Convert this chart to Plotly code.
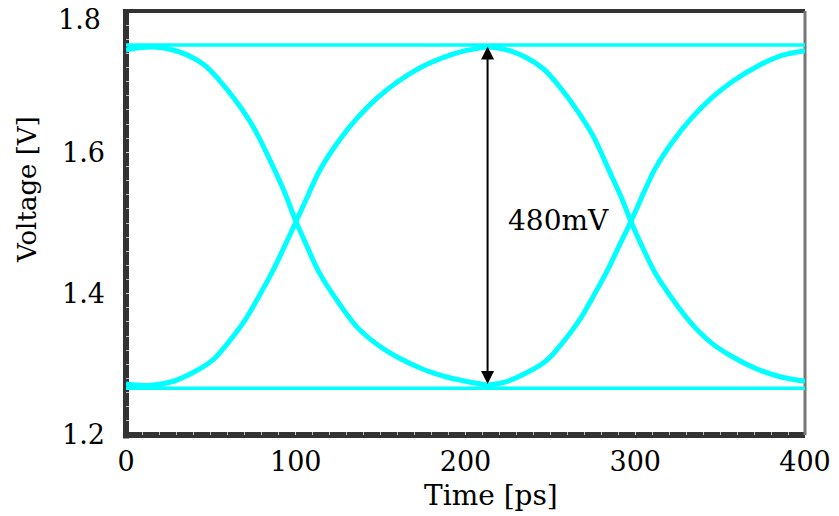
import plotly.graph_objects as go

# Eye diagram of a ~197 ps unit interval, traces in volts vs picoseconds
t_range = [0, 400]
v_range = [1.1999, 1.8001]
x_ticks = [0, 100, 200, 300, 400]
y_ticks = [1.2, 1.4, 1.6, 1.8]
y_tick_text = ["1.2", "1.4", "1.6", "1.8"]

# Steady high / low levels (long runs of identical bits)
high_level = 1.752
low_level = 1.266

# First UI: falling and rising transitions
fall1_t = [0, 8, 16, 26, 36, 46, 55, 65, 75, 85, 93, 100, 107, 114, 125, 136,
           148, 160, 175, 189, 200, 212]
fall1_v = [1.745, 1.748, 1.749, 1.746, 1.738, 1.724, 1.702, 1.672, 1.636, 1.588,
           1.546, 1.503, 1.465, 1.429, 1.388, 1.353, 1.328, 1.310, 1.293, 1.282,
           1.276, 1.271]
rise1_t = [0, 14, 28, 40, 51, 60, 70, 78, 86, 93, 100, 107, 114, 125, 136, 148,
           160, 175, 190, 200, 212]
rise1_v = [1.272, 1.270, 1.276, 1.289, 1.306, 1.330, 1.362, 1.395, 1.430, 1.465,
           1.501, 1.538, 1.574, 1.615, 1.648, 1.677, 1.700, 1.722, 1.737, 1.744,
           1.749]

# Second UI
fall2_t = [210, 218, 226, 236, 246, 255, 265, 275, 285, 292, 298, 305, 312, 322,
           333, 345, 357, 372, 386, 400]
fall2_v = [1.749, 1.748, 1.744, 1.734, 1.718, 1.694, 1.662, 1.624, 1.572, 1.535,
           1.499, 1.462, 1.428, 1.392, 1.358, 1.330, 1.311, 1.293, 1.282, 1.276]
rise2_t = [210, 222, 236, 248, 257, 267, 275, 283, 291, 298, 305, 312, 322, 333,
           345, 357, 372, 386, 400]
rise2_v = [1.270, 1.274, 1.288, 1.306, 1.330, 1.362, 1.395, 1.430, 1.470, 1.505,
           1.543, 1.578, 1.615, 1.648, 1.677, 1.700, 1.722, 1.737, 1.744]

# Eye opening measurement
eye_t = 213
eye_low = 1.270
eye_high = 1.750
eye_label = "480mV"
eye_label_pos = (255, 1.503)

TRACE = "#00FFFF"
FONT = "DejaVu Serif"

fig = go.Figure()

for lvl in (high_level, low_level):
    fig.add_trace(go.Scatter(x=t_range, y=[lvl, lvl], mode="lines",
                             line=dict(color=TRACE, width=3.5),
                             hoverinfo="skip", showlegend=False))

for tx, vy in ((fall1_t, fall1_v), (rise1_t, rise1_v),
               (fall2_t, fall2_v), (rise2_t, rise2_v)):
    fig.add_trace(go.Scatter(x=tx, y=vy, mode="lines",
                             line=dict(color=TRACE, width=5, shape="spline",
                                       smoothing=1.0),
                             hoverinfo="skip", showlegend=False))

# Double-headed arrow spanning the eye height
fig.add_annotation(x=eye_t, y=eye_high, ax=eye_t, ay=eye_low,
                   xref="x", yref="y", axref="x", ayref="y",
                   showarrow=True, arrowhead=2, startarrowhead=2,
                   arrowside="end+start", arrowsize=1.3, startarrowsize=1.3,
                   arrowwidth=2, arrowcolor="black", text="")
fig.add_annotation(x=eye_label_pos[0], y=eye_label_pos[1], xref="x", yref="y",
                   text=eye_label, showarrow=False,
                   xanchor="center", yanchor="middle",
                   font=dict(family=FONT, size=28, color="black"))

# Top y tick label sits a little below its tick so it stays inside the page
top_label = y_tick_text[-1]
axis_tick_text = y_tick_text[:-1] + [""]
fig.add_annotation(x=-0.0339, y=y_ticks[-1], xref="paper", yref="y",
                   text=top_label, showarrow=False, xanchor="right",
                   yanchor="middle", yshift=-8,
                   font=dict(family=FONT, size=27, color="black"))

# Axis titles
fig.add_annotation(x=0.5376, y=-0.142, xref="paper", yref="paper",
                   text="Time [ps]", showarrow=False,
                   xanchor="center", yanchor="middle",
                   font=dict(family=FONT, size=28, color="black"))
fig.add_annotation(x=-0.1458, y=0.578, xref="paper", yref="paper",
                   text="Voltage [V]", showarrow=False, textangle=-90,
                   xanchor="center", yanchor="middle",
                   font=dict(family=FONT, size=26, color="black"))

# Frame: heavy dark left/bottom, thinner top, grey right
fig.add_shape(type="line", xref="paper", yref="paper", x0=0, x1=0, y0=-0.008,
              y1=1.0, line=dict(color="#333333", width=6), layer="below")
fig.add_shape(type="line", xref="paper", yref="paper", x0=-0.0045, x1=1.0,
              y0=0, y1=0, line=dict(color="#333333", width=6), layer="below")
fig.add_shape(type="line", xref="paper", yref="paper", x0=-0.0045, x1=1.0,
              y0=1, y1=1, line=dict(color="#333333", width=4), layer="below")
fig.add_shape(type="line", xref="paper", yref="paper", x0=1, x1=1, y0=0,
              y1=1, line=dict(color="#777777", width=3), layer="below")

fig.update_layout(
    width=839, height=516,
    margin=dict(l=126, r=34, t=11, b=81),
    paper_bgcolor="white", plot_bgcolor="white",
    font=dict(family=FONT, color="black"),
    showlegend=False,
)
fig.update_xaxes(range=t_range, tickvals=x_ticks, showgrid=False,
                 zeroline=False, showline=False, automargin=False,
                 ticks="inside", ticklen=3, tickcolor="#cfcfcf", tickwidth=1,
                 minor=dict(dtick=10, ticks="inside", ticklen=3,
                            tickcolor="#bdbdbd", tickwidth=1),
                 tickfont=dict(family=FONT, size=27, color="black"),
                 ticklabelstandoff=8, ticklabeloverflow="allow")
fig.update_yaxes(range=v_range, tickvals=y_ticks, ticktext=axis_tick_text,
                 showgrid=False, zeroline=False, showline=False,
                 automargin=False,
                 ticks="inside", ticklen=3, tickcolor="#cfcfcf", tickwidth=1,
                 minor=dict(dtick=0.02, ticks="inside", ticklen=3,
                            tickcolor="#bdbdbd", tickwidth=1),
                 tickfont=dict(family=FONT, size=27, color="black"),
                 ticklabelstandoff=20, ticklabeloverflow="allow")

fig.write_html("out.html")
